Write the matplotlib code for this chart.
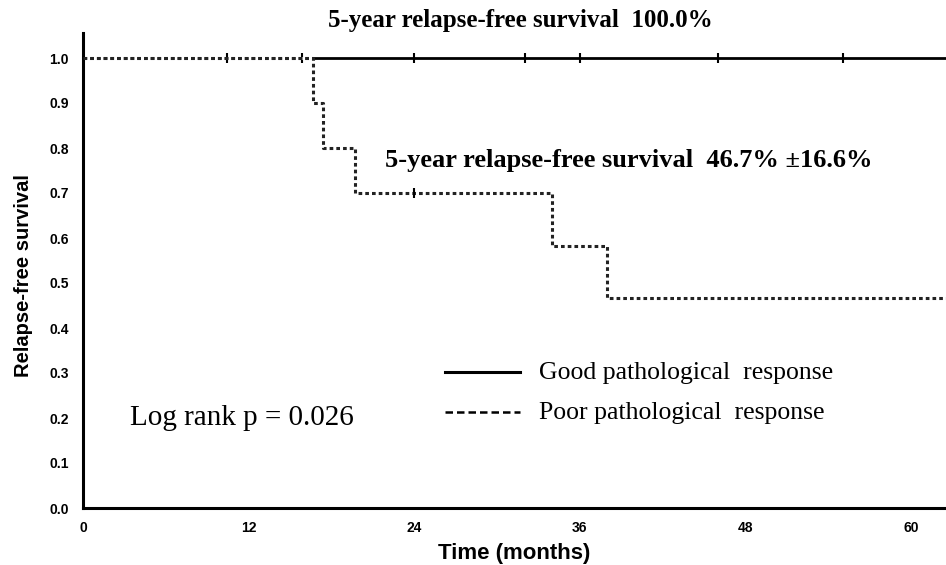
import matplotlib
matplotlib.use("Agg")
import matplotlib.pyplot as plt

# Good pathological response: no events
good_times = [0, 62.6]
good_surv = [1.0, 1.0]
good_censor_t = [10.4, 15.9, 24.0, 32.0, 36.0, 46.0, 55.1]

# Poor pathological response
poor_times = [0, 16.7, 17.4, 19.7, 34.0, 38.0, 62.6]
poor_surv = [1.0, 0.9, 0.8, 0.7, 0.583, 0.467, 0.467]
poor_censor_t = [24.0]
poor_censor_s = [0.7]

xticks = [0, 12, 24, 36, 48, 60]
yticks = [0.0, 0.1, 0.2, 0.3, 0.4, 0.5, 0.6, 0.7, 0.8, 0.9, 1.0]

fig = plt.figure(figsize=(9.46, 5.65), dpi=100)
ax = fig.add_axes([83/946, 1 - 508/565, 1 - 83/946, (508 - 33)/565])

ax.step(good_times, good_surv, where="post", color="black", lw=2.0, zorder=3)
ax.plot(good_censor_t, [1.0] * len(good_censor_t), "|", color="black",
        ms=7, mew=1.5, zorder=4)
ax.step(poor_times, poor_surv, where="post", color="#222222", lw=2.2,
        linestyle=(0, (1.2, 1.0)), gapcolor="white", zorder=5)
ax.plot(poor_censor_t, poor_censor_s, "|", color="black", ms=7, mew=1.5, zorder=6)

ax.set_xlim(0, (946 - 83) / 13.8)
ax.set_ylim(0, 1.0 + 25/45 * 0.1)
ax.set_xticks(xticks)
ax.set_xticklabels([str(t) for t in xticks])
ax.set_yticks(yticks)
ax.set_yticklabels([f"{v:.1f}" for v in yticks])

for s in ["top", "right"]:
    ax.spines[s].set_visible(False)
for s in ["left", "bottom"]:
    ax.spines[s].set_linewidth(2.2)
ax.tick_params(axis="x", length=0, pad=9, labelsize=10)
ax.tick_params(axis="y", length=0, pad=10, labelsize=10)
for lab in ax.get_xticklabels() + ax.get_yticklabels():
    lab.set_fontweight("bold")
    lab.set_family("Liberation Sans")

ax.set_xlabel("Time (months)", fontsize=16, fontweight="bold",
              family="Liberation Sans", va="center")
ax.xaxis.set_label_coords((514 - 83) / (946 - 83), (508 - 554) / 475)
ax.set_ylabel("Relapse-free survival", fontsize=14.5, fontweight="bold",
              family="Liberation Sans", va="center")
ax.yaxis.set_label_coords((24 - 83) / (946 - 83), (508 - 276) / 475)

serif = "Liberation Serif"
fig.text(520/946, 1 - 21/565, "5-year relapse-free survival  100.0%",
         ha="center", va="center", fontsize=18, fontweight="bold", family=serif)
fig.text(385/946, 1 - 161/565, "5-year relapse-free survival  46.7% \u00b116.6%",
         ha="left", va="center", fontsize=19, fontweight="bold", family=serif)
fig.text(130/946, 1 - 418/565, "Log rank p = 0.026",
         ha="left", va="center", fontsize=21, family=serif)

# legend drawn manually in figure coordinates
fig.add_artist(plt.Line2D([445/946, 520/946], [1 - 372/565] * 2,
                          color="black", lw=2.2, transform=fig.transFigure))
fig.add_artist(plt.Line2D([445/946, 520/946], [1 - 412/565] * 2,
                          color="black", lw=1.8, linestyle=(0, (3, 1.6)),
                          transform=fig.transFigure))
fig.text(539/946, 1 - 373/565, "Good pathological  response",
         ha="left", va="center", fontsize=18.5, family=serif)
fig.text(539/946, 1 - 413/565, "Poor pathological  response",
         ha="left", va="center", fontsize=18.5, family=serif)

fig.savefig("out.png", dpi=100)
